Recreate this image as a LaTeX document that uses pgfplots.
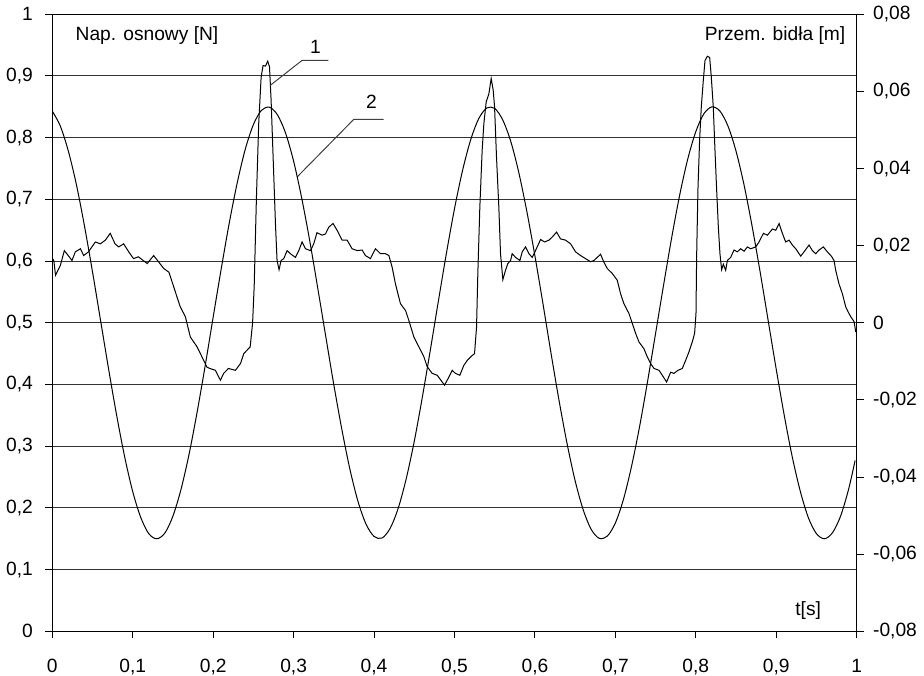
\documentclass[border=0pt]{standalone}
\usepackage{fontspec}
\setmainfont{Liberation Sans}
\usepackage{pgfplots}
\pgfplotsset{compat=1.18}
\begin{document}
\fontsize{9.6}{11.5}\selectfont
\begin{tikzpicture}
\pgfplotsset{
  every tick label/.append style={font=\fontsize{9.6}{11.5}\selectfont},
}
\begin{axis}[
  at={(0,0)}, anchor=south west,
  scale only axis, width=402.2pt, height=308.5pt,
  xmin=0, xmax=1, ymin=0, ymax=1,
  xtick={0,0.1,0.2,0.3,0.4,0.5,0.6,0.7,0.8,0.9,1},
  xticklabels={0,{0,1},{0,2},{0,3},{0,4},{0,5},{0,6},{0,7},{0,8},{0,9},1},
  ytick={0,0.1,0.2,0.3,0.4,0.5,0.6,0.7,0.8,0.9,1},
  yticklabels={0,{0,1},{0,2},{0,3},{0,4},{0,5},{0,6},{0,7},{0,8},{0,9},1},
  xtick pos=bottom, ytick pos=left,
  tick align=outside, major tick length=3.5pt,
  ymajorgrids, grid style={black!80, line width=0.5pt},
  axis line style={black, line width=0.5pt},
  tick style={black, line width=0.5pt},
  xticklabel style={yshift=-7pt},
  yticklabel style={xshift=-2.8pt},
]
\addplot[black, line width=0.5pt] coordinates {
(0,0.605)(0.002,0.600)(0.004,0.577)(0.010,0.593)(0.015,0.617)(0.018,0.612)
(0.0245,0.601)(0.0286,0.615)(0.035,0.620)(0.039,0.609)(0.045,0.615)(0.0535,0.631)
(0.0597,0.628)(0.066,0.634)(0.072,0.645)(0.078,0.628)(0.0825,0.623)(0.0887,0.628)
(0.095,0.615)(0.101,0.604)(0.107,0.607)(0.118,0.596)(0.126,0.609)(0.132,0.599)
(0.1385,0.588)(0.145,0.582)(0.151,0.558)(0.155,0.542)(0.159,0.526)(0.1654,0.510)
(0.1716,0.477)(0.180,0.461)(0.186,0.445)(0.1923,0.428)(0.196,0.426)(0.2027,0.423)
(0.209,0.407)(0.213,0.418)(0.219,0.426)(0.2276,0.423)(0.234,0.434)(0.238,0.450)
(0.246,0.461)(0.249,0.500)(0.251,0.560)(0.2537,0.700)(0.2566,0.823)(0.2596,0.898)
(0.262,0.917)(0.265,0.916)(0.2678,0.924)(0.270,0.915)(0.272,0.861)(0.2745,0.769)
(0.2774,0.661)(0.2794,0.601)(0.2819,0.586)(0.2844,0.601)(0.2877,0.604)(0.2919,0.617)
(0.296,0.612)(0.3022,0.606)(0.3064,0.617)(0.3105,0.631)(0.3147,0.620)(0.321,0.617)
(0.325,0.628)(0.329,0.646)(0.3354,0.642)(0.3396,0.644)(0.3437,0.655)(0.349,0.661)
(0.354,0.650)(0.3603,0.634)(0.3665,0.634)(0.3727,0.620)(0.379,0.617)(0.3851,0.618)
(0.3893,0.609)(0.3955,0.604)(0.4017,0.620)(0.408,0.612)(0.4142,0.612)(0.4184,0.609)
(0.4225,0.590)(0.4266,0.563)(0.4328,0.531)(0.4391,0.520)(0.4432,0.504)(0.4495,0.477)
(0.4557,0.461)(0.4619,0.445)(0.466,0.429)(0.4723,0.418)(0.4785,0.415)(0.4847,0.404)
(0.4876,0.399)(0.493,0.412)(0.4971,0.423)(0.5012,0.418)(0.5066,0.415)(0.5116,0.431)
(0.5158,0.439)(0.522,0.447)(0.5249,0.450)(0.5274,0.493)(0.529,0.580)(0.5315,0.688)
(0.5344,0.780)(0.5365,0.823)(0.5394,0.858)(0.5427,0.871)(0.5456,0.896)(0.5481,0.877)
(0.5498,0.850)(0.5522,0.769)(0.5551,0.688)(0.5572,0.612)(0.5601,0.570)(0.5634,0.585)
(0.5663,0.596)(0.5697,0.601)(0.5717,0.612)(0.5759,0.606)(0.5813,0.601)(0.5842,0.615)
(0.5883,0.623)(0.5925,0.612)(0.5966,0.606)(0.6007,0.617)(0.607,0.635)(0.612,0.631)
(0.6174,0.634)(0.6215,0.639)(0.6269,0.647)(0.6318,0.636)(0.638,0.634)(0.6443,0.628)
(0.6505,0.615)(0.6567,0.609)(0.6629,0.604)(0.6692,0.599)(0.6733,0.601)(0.6774,0.606)
(0.6816,0.611)(0.6858,0.598)(0.6899,0.588)(0.6961,0.580)(0.7023,0.569)(0.7065,0.547)
(0.7106,0.531)(0.7169,0.515)(0.721,0.499)(0.7251,0.483)(0.7293,0.469)(0.7355,0.458)
(0.7396,0.445)(0.7438,0.434)(0.748,0.426)(0.7542,0.423)(0.7583,0.415)(0.7637,0.404)
(0.7687,0.420)(0.7728,0.418)(0.7778,0.423)(0.7832,0.426)(0.7873,0.439)(0.7915,0.453)
(0.7956,0.469)(0.7985,0.483)(0.8002,0.515)(0.801,0.607)(0.8026,0.715)(0.8047,0.796)
(0.8068,0.850)(0.8093,0.893)(0.8114,0.925)(0.8143,0.932)(0.8172,0.930)(0.8192,0.899)
(0.8217,0.850)(0.8238,0.780)(0.8259,0.715)(0.828,0.655)(0.83,0.612)(0.8321,0.586)
(0.8342,0.595)(0.8371,0.585)(0.8392,0.601)(0.8433,0.606)(0.8475,0.618)(0.8516,0.615)
(0.8557,0.620)(0.86,0.616)(0.8641,0.623)(0.8682,0.620)(0.8744,0.623)(0.8786,0.631)
(0.884,0.645)(0.889,0.642)(0.8952,0.652)(0.8993,0.650)(0.9035,0.661)(0.9076,0.645)
(0.9117,0.631)(0.9159,0.634)(0.92,0.626)(0.9242,0.620)(0.9304,0.608)(0.9345,0.615)
(0.9407,0.626)(0.9449,0.617)(0.949,0.612)(0.9532,0.618)(0.9585,0.623)(0.9635,0.615)
(0.9685,0.608)(0.9718,0.601)(0.9739,0.585)(0.978,0.563)(0.9822,0.547)(0.9863,0.526)
(0.9892,0.518)(0.9925,0.510)(0.9967,0.502)(0.9988,0.485)
};
\node[anchor=west, inner sep=0pt] at (axis cs:0.0286,0.966) {Nap. osnowy [N]};
\node[anchor=east, inner sep=0pt] at (axis cs:0.9863,0.966) {Przem. bidła [m]};
\node[inner sep=0pt] at (axis cs:0.9397,0.034) {t[s]};
\node[inner sep=0pt] at (axis cs:0.327,0.9465) {1};
\node[inner sep=0pt] at (axis cs:0.3968,0.858) {2};
\draw[black!75, line width=0.5pt] (axis cs:0.3433,0.9254) -- (axis cs:0.3106,0.9254) -- (axis cs:0.2711,0.885);
\draw[black!75, line width=0.5pt] (axis cs:0.412,0.8298) -- (axis cs:0.3748,0.8298) -- (axis cs:0.3043,0.7363);
\end{axis}
\begin{axis}[
  at={(0,0)}, anchor=south west,
  scale only axis, width=402.2pt, height=308.5pt,
  xmin=0, xmax=1, ymin=-0.08, ymax=0.08,
  axis x line=none, axis y line*=right,
  scaled y ticks=false,
  ytick={-0.08,-0.06,-0.04,-0.02,0,0.02,0.04,0.06,0.08},
  yticklabels={{-0,08},{-0,06},{-0,04},{-0,02},0,{0,02},{0,04},{0,06},{0,08}},
  tick align=outside, major tick length=3.5pt,
  axis line style={black, line width=0.5pt},
  tick style={black, line width=0.5pt},
  yticklabel style={xshift=1.3pt},
]
\addplot[black, line width=0.5pt, smooth] coordinates {
(0,0.0549)(0.01,0.0510)(0.02,0.0445)(0.03,0.0358)(0.04,0.0251)(0.05,0.0132)
(0.06,0.0006)(0.07,-0.0120)(0.08,-0.0240)(0.09,-0.0348)(0.10,-0.0438)(0.11,-0.0505)
(0.12,-0.0547)(0.13,-0.0560)(0.14,-0.0545)(0.15,-0.0501)(0.16,-0.0432)(0.17,-0.0341)
(0.18,-0.0232)(0.19,-0.0112)(0.20,0.0015)(0.21,0.0140)(0.22,0.0259)(0.23,0.0364)
(0.24,0.0451)(0.25,0.0514)(0.26,0.0551)(0.27,0.0559)(0.28,0.0539)(0.29,0.0492)
(0.30,0.0419)(0.31,0.0324)(0.32,0.0213)(0.33,0.0090)(0.34,-0.0036)(0.35,-0.0161)
(0.36,-0.0277)(0.37,-0.0380)(0.38,-0.0463)(0.39,-0.0522)(0.40,-0.0554)(0.41,-0.0558)
(0.42,-0.0533)(0.43,-0.0481)(0.44,-0.0404)(0.45,-0.0307)(0.46,-0.0193)(0.47,-0.0070)
(0.48,0.0057)(0.49,0.0181)(0.50,0.0296)(0.51,0.0395)(0.52,0.0474)(0.53,0.0529)
(0.54,0.0557)(0.55,0.0556)(0.56,0.0526)(0.57,0.0470)(0.58,0.0389)(0.59,0.0288)
(0.60,0.0173)(0.61,0.0049)(0.62,-0.0079)(0.63,-0.0202)(0.64,-0.0314)(0.65,-0.0410)
(0.66,-0.0485)(0.67,-0.0536)(0.68,-0.0559)(0.69,-0.0553)(0.70,-0.0519)(0.71,-0.0458)
(0.72,-0.0373)(0.73,-0.0270)(0.74,-0.0152)(0.75,-0.0027)(0.76,0.0099)(0.77,0.0221)
(0.78,0.0332)(0.79,0.0425)(0.80,0.0496)(0.81,0.0542)(0.82,0.0560)(0.83,0.0549)
(0.84,0.0510)(0.85,0.0445)(0.86,0.0357)(0.87,0.0250)(0.88,0.0131)(0.89,0.0005)
(0.90,-0.0121)(0.91,-0.0241)(0.92,-0.0349)(0.93,-0.0438)(0.94,-0.0506)(0.95,-0.0547)
(0.96,-0.0560)(0.97,-0.0544)(0.98,-0.0501)(0.99,-0.0431)(0.998,-0.0357)
};
\end{axis}
\pgfresetboundingbox
\useasboundingbox (-26.15pt,-21.85pt) rectangle (435.85pt,315.65pt);
\end{tikzpicture}
\end{document}
